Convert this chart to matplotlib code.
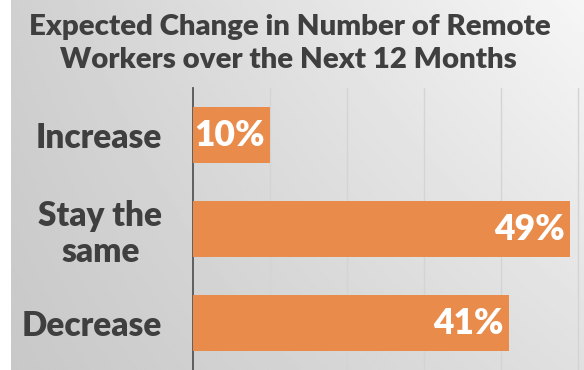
import numpy as np
import matplotlib.pyplot as plt

categories = ["Increase", "Stay the\nsame", "Decrease"]
values = [10, 49, 41]
value_labels = ["10%", "49%", "41%"]
title_lines = ["Expected Change in Number of Remote", "Workers over the Next 12 Months"]

W, H, DPI = 584, 370, 100
FONT = "Lato"
WEIGHT = "heavy"
TEXT = "#3f3f3f"
BAR = "#E98B4B"

fig = plt.figure(figsize=(W / DPI, H / DPI), dpi=DPI, facecolor="white")

# soft grey backdrop, lighter towards the upper right
bg = fig.add_axes([11 / W, 0, 1 - 11 / W, 1], zorder=-5)
gx = np.linspace(0, 1, 200)
gy = np.linspace(0, 1, 200)
X, Y = np.meshgrid(gx, gy)
tl, tr, bl, br = 208, 246, 200, 224
grad = (tl * (1 - X) * (1 - Y) + tr * X * (1 - Y) + bl * (1 - X) * Y + br * X * Y) / 255
bg.imshow(grad, cmap="gray", vmin=0, vmax=1, aspect="auto", extent=(0, 1, 1, 0))
bg.set_axis_off()

ax = fig.add_axes([193 / W, 0, 1 - 193 / W, (H - 88) / H])
ax.set_facecolor("none")
y = np.arange(len(categories))
ax.barh(y, values, height=0.6, color=BAR, zorder=3)
ax.set_xlim(0, 50.8)
ax.set_ylim(len(categories) - 0.5, -0.5)
ax.set_xticks([10, 20, 30, 40, 50])
ax.xaxis.grid(True, color="#d4d4d4", linewidth=1.0, zorder=0)
ax.tick_params(axis="x", length=0, labelbottom=False)
ax.tick_params(axis="y", length=0, pad=22)
ax.set_yticks(y)
ax.set_yticklabels(categories, fontsize=24, fontweight=WEIGHT, family=FONT,
                   color=TEXT, linespacing=1.15, multialignment="center")
for s in ["top", "right", "bottom"]:
    ax.spines[s].set_visible(False)
ax.spines["left"].set_color("#555555")
ax.spines["left"].set_linewidth(1.3)

for yi, v, lab in zip(y, values, value_labels):
    ax.text(v - 0.7, yi, lab, ha="right", va="center", fontsize=25.5,
            fontweight=WEIGHT, family=FONT, color="white", zorder=4)

fig.text(0.497, 1 - 35 / H, title_lines[0], ha="center", va="baseline",
         fontsize=21.2, fontweight=WEIGHT, family=FONT, color=TEXT)
fig.text(0.494, 1 - 68 / H, title_lines[1], ha="center", va="baseline",
         fontsize=21.2, fontweight=WEIGHT, family=FONT, color=TEXT)

fig.savefig("out.png", dpi=DPI, facecolor="white")
